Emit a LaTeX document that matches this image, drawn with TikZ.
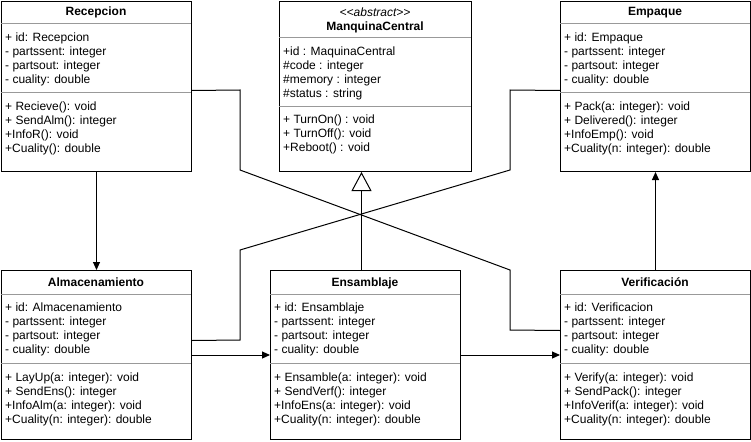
\documentclass[tikz,border=0pt]{standalone}
\usepackage{fontspec}
\setmainfont{Liberation Sans}
\usetikzlibrary{arrows.meta}

\newcommand{\umlsize}{\fontsize{12}{14}\selectfont}

\tikzset{
    cls/.style={draw, line width=1pt, minimum width=190pt, inner sep=0pt, anchor=north west},
    hd/.style={font=\umlsize\bfseries, anchor=base, inner sep=0pt},
    mem/.style={anchor=north west, align=left, inner sep=0pt},
    sep/.style={draw=black!40, line width=1pt},
    lnk/.style={line width=1pt},
    arr/.style={lnk, -{Triangle[length=8pt, width=7pt]}},
    inh/.style={lnk, -{Triangle[open, length=19pt, width=20pt, fill=white]}}
}

\begin{document}
\begin{tikzpicture}[x=1pt, y=-1pt, font=\umlsize]

    \useasboundingbox (0, 0) rectangle (751, 441);

    \node[cls, minimum height=170pt] (rec) at (1, 1) {};
    \node[cls, minimum height=170pt, minimum width=192pt] (man) at (279, 1) {};
    \node[cls, minimum height=170pt] (emp) at (560, 1) {};
    \node[cls, minimum height=169pt] (alm) at (1, 270) {};
    \node[cls, minimum height=169pt] (ens) at (270, 270) {};
    \node[cls, minimum height=169pt] (ver) at (560, 270) {};

    \draw[sep] (1, 24) -- (191, 24) (1, 93) -- (191, 93);
    \draw[sep] (279, 38) -- (471, 38) (279, 107) -- (471, 107);
    \draw[sep] (560, 24) -- (750, 24) (560, 93) -- (750, 93);
    \draw[sep] (1, 294) -- (191, 294) (1, 363) -- (191, 363);
    \draw[sep] (270, 294) -- (460, 294) (270, 363) -- (460, 363);
    \draw[sep] (560, 294) -- (750, 294) (560, 363) -- (750, 363);

    \node[hd] (rect) at (96, 16) {Recepcion};
    \node[mem] (reca) at (5, 33) {+ id: Recepcion\\- partssent: integer\\- partsout: integer\\- cuality: double};
    \node[mem] (recm) at (5, 102) {+ Recieve(): void\\+ SendAlm(): integer\\+InfoR(): void\\+Cuality(): double};

    \node[anchor=base, inner sep=0pt] (mans) at (375, 17) {\textit{<\kern0pt<abstract>\kern0pt>}};
    \node[hd] (mant) at (375, 31) {ManquinaCentral};
    \node[mem] (mana) at (283, 47) {+id : MaquinaCentral\\\#code : integer\\\#memory : integer\\\#status : string};
    \node[mem] (manm) at (283, 115) {+ TurnOn() : void\\+ TurnOff(): void\\+Reboot() : void};

    \node[hd] (empt) at (655, 16) {Empaque};
    \node[mem] (empa) at (564, 33) {+ id: Empaque\\- partssent: integer\\- partsout: integer\\- cuality: double};
    \node[mem] (empm) at (564, 102) {+ Pack(a: integer): void\\+ Delivered(): integer\\+InfoEmp(): void\\+Cuality(n: integer): double};

    \node[hd] (almt) at (96, 286) {Almacenamiento};
    \node[mem] (alma) at (5, 303) {+ id: Almacenamiento\\- partssent: integer\\- partsout: integer\\- cuality: double};
    \node[mem] (almm) at (5, 373) {+ LayUp(a: integer): void\\+ SendEns(): integer\\+InfoAlm(a: integer): void\\+Cuality(n: integer): double};

    \node[hd] (enst) at (365, 286) {Ensamblaje};
    \node[mem] (ensa) at (274, 303) {+ id: Ensamblaje\\- partssent: integer\\- partsout: integer\\- cuality: double};
    \node[mem] (ensm) at (274, 373) {+ Ensamble(a: integer): void\\+ SendVerf(): integer\\+InfoEns(a: integer): void\\+Cuality(n: integer): double};

    \node[hd] (vert) at (655, 286) {Verificación};
    \node[mem] (vera) at (564, 303) {+ id: Verificacion\\- partssent: integer\\- partsout: integer\\- cuality: double};
    \node[mem] (verm) at (564, 373) {+ Verify(a: integer): void\\+ SendPack(): integer\\+InfoVerif(a: integer): void\\+Cuality(n: integer): double};

    \draw[arr] (rec) to (alm);
    \draw[arr] (alm) to (ens);
    \draw[arr] (ens) to (ver);
    \draw[arr] (ver) to (emp);
    \draw[inh] ([xshift=-4pt]ens.north) to ([xshift=-4pt]ens.north |- man.south);

    \draw[lnk] ([yshift=-4pt]rec.east) -- (240, 90) -- (240, 170) -- (510, 270) -- (510, 330) -- ([yshift=24.5pt]ver.west);
    \draw[lnk] ([yshift=14.5pt]alm.east) -- (240, 340) -- (240, 250) -- (510, 170) -- (510, 90) -- ([yshift=-4pt]emp.west);

\end{tikzpicture}
\end{document}
